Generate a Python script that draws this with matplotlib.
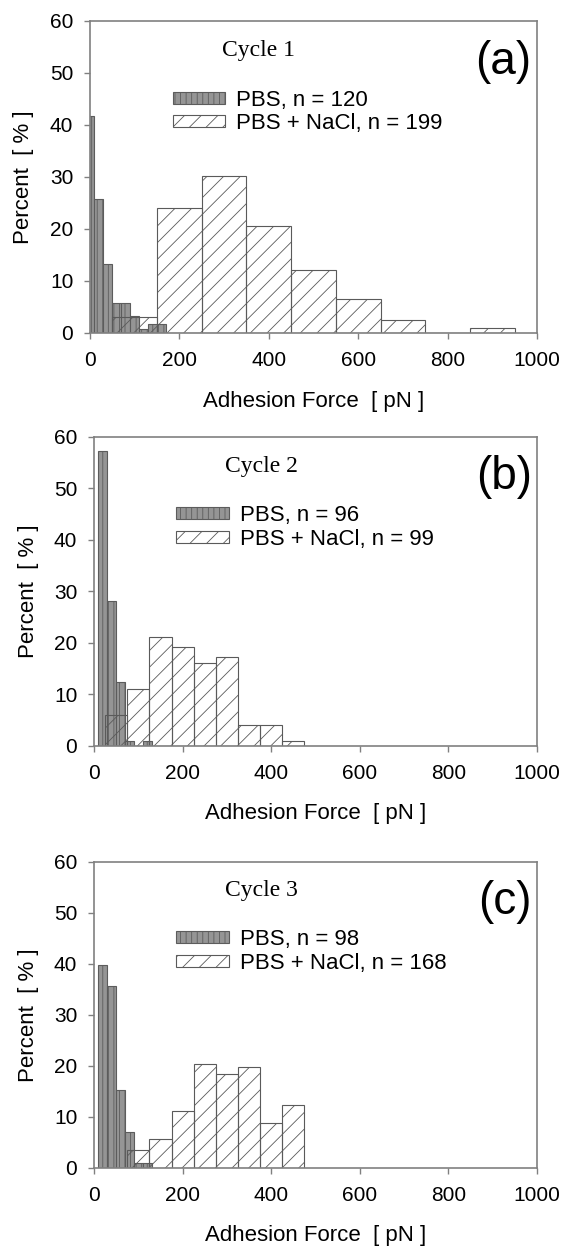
import matplotlib
matplotlib.use("Agg")
import matplotlib.pyplot as plt

plt.rcParams['font.family'] = ['Liberation Sans', 'DejaVu Sans']
plt.rcParams['hatch.linewidth'] = 0.6

# bin centres (pN) and percentages
pbs_a_x = [0, 20, 40, 60, 80, 100, 120, 140, 160]
pbs_a = [41.7, 25.8, 13.3, 5.8, 5.8, 3.3, 0.8, 1.7, 1.7]
nacl_a_x = [100, 200, 300, 400, 500, 600, 700, 800, 900]
nacl_a = [3.0, 24.1, 30.2, 20.6, 12.1, 6.5, 2.5, 0.0, 1.0]

pbs_b_x = [20, 40, 60, 80, 100, 120]
pbs_b = [57.3, 28.1, 12.5, 1.0, 0.0, 1.0]
nacl_b_x = [50, 100, 150, 200, 250, 300, 350, 400, 450]
nacl_b = [6.1, 11.1, 21.2, 19.2, 16.2, 17.2, 4.0, 4.0, 1.0]

pbs_c_x = [20, 40, 60, 80, 100, 120]
pbs_c = [39.8, 35.7, 15.3, 7.1, 1.0, 1.0]
nacl_c_x = [100, 150, 200, 250, 300, 350, 400, 450]
nacl_c = [3.6, 5.7, 11.1, 20.4, 18.5, 19.7, 8.8, 12.4]

x_ticks = [0, 200, 400, 600, 800, 1000]
y_ticks = [0, 10, 20, 30, 40, 50, 60]


def draw_panel(ax, pbs_x, pbs_y, pbs_w, nacl_x, nacl_y, nacl_w, n_pbs, n_nacl, cycle, tag):
    ax.bar(pbs_x, pbs_y, width=pbs_w, color="#959595", edgecolor="#5c5c5c",
           linewidth=0.8, hatch="|||", label="PBS, n = %d" % n_pbs)
    ax.bar(nacl_x, nacl_y, width=nacl_w, facecolor="none", edgecolor="#5a5a5a",
           linewidth=0.8, hatch="//", label="PBS + NaCl, n = %d" % n_nacl)

    ax.set_xlim(0, 1000)
    ax.set_ylim(0, 60)
    ax.set_xticks(x_ticks)
    ax.set_yticks(y_ticks)
    ax.tick_params(axis="both", direction="out", length=4, width=1,
                   color="#808080", labelsize=15)
    ax.tick_params(axis="x", pad=9)
    ax.tick_params(axis="y", pad=8)
    for side in ax.spines:
        ax.spines[side].set_color("#808080")
        ax.spines[side].set_linewidth(1.2)

    ax.set_xlabel("Adhesion Force  [ pN ]", fontsize=16)
    ax.set_ylabel("Percent  [ % ]", fontsize=16)
    ax.xaxis.set_label_coords(0.5, -0.185)
    ax.yaxis.set_label_coords(-0.125, 0.5)

    ax.text(0.295, 0.905, cycle, transform=ax.transAxes, fontsize=17,
            family="Liberation Serif", va="center", ha="left")
    ax.text(0.988, 0.87, tag, transform=ax.transAxes, fontsize=33,
            va="center", ha="right")
    ax.legend(loc="upper left", bbox_to_anchor=(0.186, 0.78), frameon=False,
              fontsize=16, handlelength=2.35, handleheight=0.45,
              handletextpad=0.5, labelspacing=0.12, borderpad=0, borderaxespad=0)


fig = plt.figure(figsize=(5.64, 12.47), dpi=100)
ax_a = fig.add_axes([0.1596, 0.7330, 0.7926, 0.2502])
ax_b = fig.add_axes([0.1667, 0.4018, 0.7855, 0.2478])
ax_c = fig.add_axes([0.1667, 0.0634, 0.7855, 0.2454])

draw_panel(ax_a, pbs_a_x, pbs_a, 20, nacl_a_x, nacl_a, 100, 120, 199, "Cycle 1", "(a)")
draw_panel(ax_b, pbs_b_x, pbs_b, 20, nacl_b_x, nacl_b, 50, 96, 99, "Cycle 2", "(b)")
draw_panel(ax_c, pbs_c_x, pbs_c, 20, nacl_c_x, nacl_c, 50, 98, 168, "Cycle 3", "(c)")

fig.savefig("out.png", dpi=100)
